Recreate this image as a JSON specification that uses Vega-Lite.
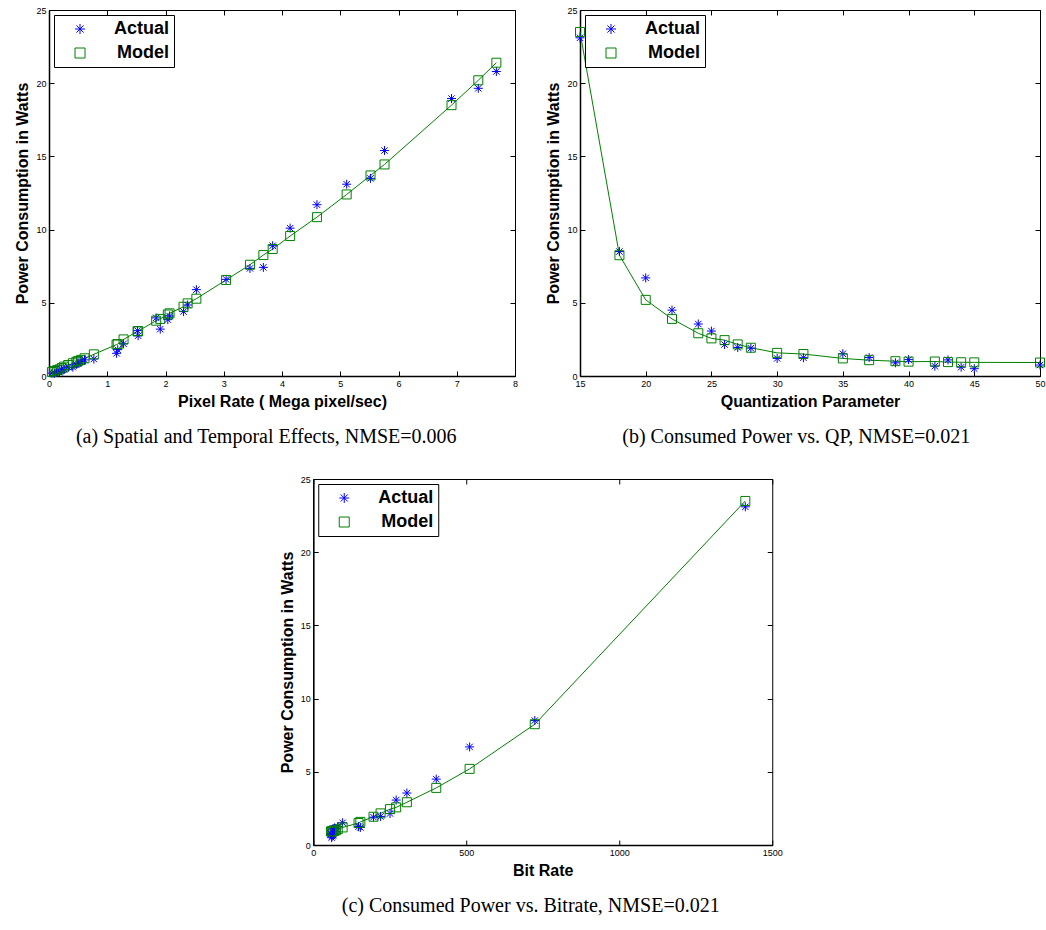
{
  "$schema": "https://vega.github.io/schema/vega-lite/v6.json",
  "padding": {"left": 14, "top": 5, "right": 4, "bottom": 5},
  "background": "white",
  "datasets": {
    "rate": [
      {"rate": 0.05, "Actual": 0.2, "Model": 0.27},
      {"rate": 0.09, "Actual": 0.18, "Model": 0.34},
      {"rate": 0.14, "Actual": 0.3, "Model": 0.4},
      {"rate": 0.18, "Actual": 0.25, "Model": 0.45},
      {"rate": 0.22, "Actual": 0.45, "Model": 0.55},
      {"rate": 0.26, "Actual": 0.45, "Model": 0.64},
      {"rate": 0.33, "Actual": 0.6, "Model": 0.75},
      {"rate": 0.41, "Actual": 0.6, "Model": 0.87},
      {"rate": 0.47, "Actual": 0.8, "Model": 0.97},
      {"rate": 0.5, "Actual": 0.85, "Model": 1.02},
      {"rate": 0.55, "Actual": 1.0, "Model": 1.1},
      {"rate": 0.61, "Actual": 1.1, "Model": 1.21},
      {"rate": 0.77, "Actual": 1.16, "Model": 1.48},
      {"rate": 1.16, "Actual": 1.55, "Model": 2.15},
      {"rate": 1.18, "Actual": 1.8, "Model": 2.18},
      {"rate": 1.28, "Actual": 2.2, "Model": 2.5},
      {"rate": 1.52, "Actual": 3.1, "Model": 3.05},
      {"rate": 1.53, "Actual": 2.75, "Model": 3.07},
      {"rate": 1.84, "Actual": 3.97, "Model": 3.78},
      {"rate": 1.91, "Actual": 3.2, "Model": 3.9},
      {"rate": 2.04, "Actual": 3.85, "Model": 4.2},
      {"rate": 2.07, "Actual": 4.1, "Model": 4.28},
      {"rate": 2.31, "Actual": 4.4, "Model": 4.73},
      {"rate": 2.38, "Actual": 4.85, "Model": 4.96},
      {"rate": 2.53, "Actual": 5.9, "Model": 5.28},
      {"rate": 3.04, "Actual": 6.6, "Model": 6.56},
      {"rate": 3.45, "Actual": 7.35, "Model": 7.6},
      {"rate": 3.68, "Actual": 7.42, "Model": 8.26},
      {"rate": 3.84, "Actual": 8.9, "Model": 8.67},
      {"rate": 4.14, "Actual": 10.1, "Model": 9.56},
      {"rate": 4.6, "Actual": 11.7, "Model": 10.85},
      {"rate": 5.11, "Actual": 13.1, "Model": 12.4},
      {"rate": 5.52, "Actual": 13.5, "Model": 13.7},
      {"rate": 5.76, "Actual": 15.4, "Model": 14.45},
      {"rate": 6.91, "Actual": 18.95, "Model": 18.5},
      {"rate": 7.37, "Actual": 19.65, "Model": 20.2},
      {"rate": 7.68, "Actual": 20.8, "Model": 21.4}
    ],
    "qp": [
      {"qp": 15, "bitrate": 1412, "Actual": 23.1, "Model": 23.5},
      {"qp": 18, "bitrate": 724, "Actual": 8.5, "Model": 8.25},
      {"qp": 20, "bitrate": 511, "Actual": 6.7, "Model": 5.2},
      {"qp": 22, "bitrate": 402, "Actual": 4.5, "Model": 3.9},
      {"qp": 24, "bitrate": 306, "Actual": 3.55, "Model": 2.92},
      {"qp": 25, "bitrate": 271, "Actual": 3.07, "Model": 2.57},
      {"qp": 26, "bitrate": 251, "Actual": 2.15, "Model": 2.45},
      {"qp": 27, "bitrate": 220, "Actual": 1.95, "Model": 2.16},
      {"qp": 28, "bitrate": 197, "Actual": 1.9, "Model": 1.93},
      {"qp": 30, "bitrate": 154, "Actual": 1.2, "Model": 1.58},
      {"qp": 32, "bitrate": 148, "Actual": 1.25, "Model": 1.5},
      {"qp": 35, "bitrate": 96, "Actual": 1.52, "Model": 1.2},
      {"qp": 37, "bitrate": 80, "Actual": 1.26, "Model": 1.08},
      {"qp": 39, "bitrate": 74, "Actual": 0.9, "Model": 1.01},
      {"qp": 40, "bitrate": 70, "Actual": 1.12, "Model": 0.98},
      {"qp": 42, "bitrate": 66, "Actual": 0.67, "Model": 0.99},
      {"qp": 43, "bitrate": 64, "Actual": 1.1, "Model": 0.95},
      {"qp": 44, "bitrate": 62, "Actual": 0.6, "Model": 0.94},
      {"qp": 45, "bitrate": 60, "Actual": 0.5, "Model": 0.93},
      {"qp": 50, "bitrate": 58, "Actual": 0.75, "Model": 0.92}
    ]
  },
  "vconcat": [
    {
      "hconcat": [
        {
          "width": 466, "height": 366,
          "data": {"name": "rate"},
          "title": {"text": "(a) Spatial and Temporal Effects, NMSE=0.006"},
          "layer": [
            {
              "mark": {"type": "line", "color": "#008000", "strokeWidth": 1},
              "encoding": {
                "x": {"field": "rate", "type": "quantitative", "scale": {"domain": [0, 8], "nice": false}, "axis": {"orient": "bottom", "title": "Pixel Rate ( Mega pixel/sec)", "values": [0,1,2,3,4,5,6,7,8]}},
                "y": {"field": "Model", "type": "quantitative", "scale": {"domain": [0, 25], "nice": false}, "axis": {"orient": "left", "title": "Power Consumption in Watts", "values": [0,5,10,15,20,25]}}
              }
            },
            {
              "transform": [{"fold": ["Actual", "Model"], "as": ["series", "power"]}],
              "mark": {"type": "point", "filled": false, "strokeWidth": 1, "opacity": 1, "size": 81},
              "encoding": {
                "x": {"field": "rate", "type": "quantitative", "axis": {"orient": "top", "labels": false, "title": null, "domain": false, "values": [0,1,2,3,4,5,6,7,8]}},
                "y": {"field": "power", "type": "quantitative", "axis": {"orient": "right", "labels": false, "title": null, "domain": false, "values": [0,5,10,15,20,25]}},
                "color": {"field": "series", "type": "nominal", "scale": {"domain": ["Actual", "Model"], "range": ["#0000ff", "#008000"]},
                  "legend": {"encode": {"symbols": {"shape": {"value": {"expr": "datum.value === 'Model' ? 'M-2.6,0L-0.7,0M0.7,0L2.6,0M-0.7,-0.7L0.7,-0.7L0.7,0.7L-0.7,0.7Z' : 'M0,-1L0,1M-1,0L1,0M-0.71,-0.71L0.71,0.71M-0.71,0.71L0.71,-0.71'"}}, "size": {"value": 100}}}}},
                "shape": {"field": "series", "type": "nominal", "scale": {"domain": ["Actual", "Model"], "range": ["M0,-1L0,1M-1,0L1,0M-0.71,-0.71L0.71,0.71M-0.71,0.71L0.71,-0.71", "square"]},
                  "legend": {"encode": {"symbols": {"shape": {"value": {"expr": "datum.value === 'Model' ? 'M-2.6,0L-0.7,0M0.7,0L2.6,0M-0.7,-0.7L0.7,-0.7L0.7,0.7L-0.7,0.7Z' : 'M0,-1L0,1M-1,0L1,0M-0.71,-0.71L0.71,0.71M-0.71,0.71L0.71,-0.71'"}}, "size": {"value": 100}}}}}
              }
            }
          ],
          "resolve": {"axis": {"x": "independent", "y": "independent"}}
        },
        {
          "width": 460, "height": 366,
          "data": {"name": "qp"},
          "title": {"text": "(b) Consumed Power vs. QP, NMSE=0.021"},
          "layer": [
            {
              "mark": {"type": "line", "color": "#008000", "strokeWidth": 1},
              "encoding": {
                "x": {"field": "qp", "type": "quantitative", "scale": {"domain": [15, 50], "nice": false}, "axis": {"orient": "bottom", "title": "Quantization Parameter", "values": [15,20,25,30,35,40,45,50]}},
                "y": {"field": "Model", "type": "quantitative", "scale": {"domain": [0, 25], "nice": false}, "axis": {"orient": "left", "title": "Power Consumption in Watts", "values": [0,5,10,15,20,25]}}
              }
            },
            {
              "transform": [{"fold": ["Actual", "Model"], "as": ["series", "power"]}],
              "mark": {"type": "point", "filled": false, "strokeWidth": 1, "opacity": 1, "size": 81},
              "encoding": {
                "x": {"field": "qp", "type": "quantitative", "axis": {"orient": "top", "labels": false, "title": null, "domain": false, "values": [15,20,25,30,35,40,45,50]}},
                "y": {"field": "power", "type": "quantitative", "axis": {"orient": "right", "labels": false, "title": null, "domain": false, "values": [0,5,10,15,20,25]}},
                "color": {"field": "series", "type": "nominal", "scale": {"domain": ["Actual", "Model"], "range": ["#0000ff", "#008000"]},
                  "legend": {"encode": {"symbols": {"shape": {"value": {"expr": "datum.value === 'Model' ? 'M-2.6,0L-0.7,0M0.7,0L2.6,0M-0.7,-0.7L0.7,-0.7L0.7,0.7L-0.7,0.7Z' : 'M0,-1L0,1M-1,0L1,0M-0.71,-0.71L0.71,0.71M-0.71,0.71L0.71,-0.71'"}}, "size": {"value": 100}}}}},
                "shape": {"field": "series", "type": "nominal", "scale": {"domain": ["Actual", "Model"], "range": ["M0,-1L0,1M-1,0L1,0M-0.71,-0.71L0.71,0.71M-0.71,0.71L0.71,-0.71", "square"]},
                  "legend": {"encode": {"symbols": {"shape": {"value": {"expr": "datum.value === 'Model' ? 'M-2.6,0L-0.7,0M0.7,0L2.6,0M-0.7,-0.7L0.7,-0.7L0.7,0.7L-0.7,0.7Z' : 'M0,-1L0,1M-1,0L1,0M-0.71,-0.71L0.71,0.71M-0.71,0.71L0.71,-0.71'"}}, "size": {"value": 100}}}}}
              }
            }
          ],
          "resolve": {"axis": {"x": "independent", "y": "independent"}}
        }
      ],
      "spacing": 26,
      "resolve": {"scale": {"color": "independent", "shape": "independent"}}
    },
    {
      "width": 459, "height": 366,
      "data": {"name": "qp"},
      "title": {"text": "(c) Consumed Power vs. Bitrate, NMSE=0.021"},
      "layer": [
        {
          "mark": {"type": "line", "color": "#008000", "strokeWidth": 1},
          "encoding": {
            "x": {"field": "bitrate", "type": "quantitative", "scale": {"domain": [0, 1500], "nice": false}, "axis": {"orient": "bottom", "title": "Bit Rate", "values": [0,500,1000,1500], "format": "d"}},
            "y": {"field": "Model", "type": "quantitative", "scale": {"domain": [0, 25], "nice": false}, "axis": {"orient": "left", "title": "Power Consumption in Watts", "values": [0,5,10,15,20,25]}}
          }
        },
        {
          "transform": [{"fold": ["Actual", "Model"], "as": ["series", "power"]}],
          "mark": {"type": "point", "filled": false, "strokeWidth": 1, "opacity": 1, "size": 81},
          "encoding": {
            "x": {"field": "bitrate", "type": "quantitative", "axis": {"orient": "top", "labels": false, "title": null, "domain": false, "values": [0,500,1000,1500]}},
            "y": {"field": "power", "type": "quantitative", "axis": {"orient": "right", "labels": false, "title": null, "domain": false, "values": [0,5,10,15,20,25]}},
            "color": {"field": "series", "type": "nominal", "scale": {"domain": ["Actual", "Model"], "range": ["#0000ff", "#008000"]},
              "legend": {"encode": {"symbols": {"shape": {"value": {"expr": "datum.value === 'Model' ? 'M-2.6,0L-0.7,0M0.7,0L2.6,0M-0.7,-0.7L0.7,-0.7L0.7,0.7L-0.7,0.7Z' : 'M0,-1L0,1M-1,0L1,0M-0.71,-0.71L0.71,0.71M-0.71,0.71L0.71,-0.71'"}}, "size": {"value": 100}}}}},
            "shape": {"field": "series", "type": "nominal", "scale": {"domain": ["Actual", "Model"], "range": ["M0,-1L0,1M-1,0L1,0M-0.71,-0.71L0.71,0.71M-0.71,0.71L0.71,-0.71", "square"]},
              "legend": {"encode": {"symbols": {"shape": {"value": {"expr": "datum.value === 'Model' ? 'M-2.6,0L-0.7,0M0.7,0L2.6,0M-0.7,-0.7L0.7,-0.7L0.7,0.7L-0.7,0.7Z' : 'M0,-1L0,1M-1,0L1,0M-0.71,-0.71L0.71,0.71M-0.71,0.71L0.71,-0.71'"}}, "size": {"value": 100}}}}}
          }
        }
      ],
      "resolve": {"axis": {"x": "independent", "y": "independent"}}
    }
  ],
  "spacing": 26,
  "center": true,
  "resolve": {"scale": {"color": "independent", "shape": "independent"}},
  "config": {
    "view": {"stroke": "black", "strokeWidth": 1},
    "title": {"orient": "bottom", "frame": "bounds", "anchor": "middle", "font": "Liberation Serif", "fontSize": 20, "fontWeight": "normal", "color": "black", "offset": 18},
    "axis": {
      "grid": false,
      "domainColor": "black",
      "domainWidth": 1.5,
      "tickColor": "black",
      "tickSize": -5,
      "tickWidth": 1,
      "labelColor": "black",
      "labelFont": "Liberation Sans",
      "labelFontSize": 9,
      "labelPadding": 8,
      "labelFlush": false,
      "labelOverlap": false,
      "titleFont": "Liberation Sans",
      "titleFontSize": 16,
      "titleFontWeight": "bold",
      "titleColor": "black",
      "titlePadding": 5
    },
    "legend": {
      "orient": "top-left",
      "offset": 5,
      "title": null,
      "fillColor": "white",
      "strokeColor": "black",
      "padding": 5,
      "cornerRadius": 0,
      "labelFont": "Liberation Sans",
      "labelFontSize": 18,
      "labelFontWeight": "bold",
      "labelColor": "black",
      "labelAlign": "right",
      "labelOffset": 80,
      "rowPadding": 6,
      "symbolSize": 100,
      "symbolOffset": 12,
      "symbolStrokeWidth": 1
    }
  }
}
